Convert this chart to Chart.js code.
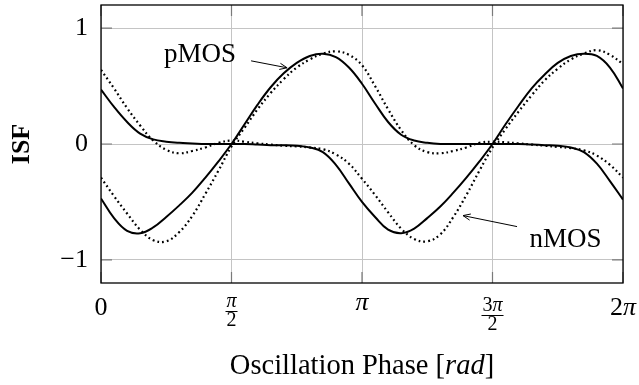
<!DOCTYPE html>
<html>
<head>
<meta charset="utf-8">
<script src="https://cdn.jsdelivr.net/npm/chart.js@4.4.1/dist/chart.umd.min.js"></script>
<style>
  html, body { margin: 0; padding: 0; background: #fff; }
</style>
</head>
<body>
<canvas id="isf" width="639" height="385"></canvas>
<script>
// Fase en múltiplos de pi
const phase = [0, 0.05, 0.1, 0.15, 0.2, 0.25, 0.3, 0.35, 0.4, 0.45, 0.5, 0.55, 0.6, 0.65, 0.7, 0.75, 0.8, 0.85, 0.9, 0.95,
  1, 1.05, 1.1, 1.15, 1.2, 1.25, 1.3, 1.35, 1.4, 1.45, 1.5, 1.55, 1.6, 1.65, 1.7, 1.75, 1.8, 1.85, 1.9, 1.95, 2];

// Curvas continuas
const pmosSolid = [-0.47, -0.64, -0.75, -0.77, -0.72, -0.63, -0.53, -0.42, -0.29, -0.15, 0.0, 0.17, 0.34, 0.49, 0.61, 0.70, 0.76, 0.78, 0.75, 0.66,
  0.52, 0.35, 0.19, 0.08, 0.03, 0.01, 0.0, 0.0, 0.0, 0.0, 0.0, 0.0, 0.0, -0.005, -0.01, -0.015, -0.03, -0.07, -0.17, -0.32, -0.48];
const nmosSolid = [0.47, 0.32, 0.19, 0.09, 0.04, 0.02, 0.01, 0.005, 0.0, 0.0, 0.0, 0.0, -0.005, -0.01, -0.01, -0.015, -0.03, -0.07, -0.18, -0.34,
  -0.50, -0.63, -0.74, -0.77, -0.73, -0.64, -0.54, -0.42, -0.29, -0.15, 0.0, 0.17, 0.33, 0.48, 0.60, 0.70, 0.76, 0.78, 0.76, 0.66, 0.48];

// Curvas punteadas
const pmosDotted = [-0.29, -0.45, -0.60, -0.74, -0.83, -0.84, -0.76, -0.62, -0.43, -0.23, -0.02, 0.14, 0.30, 0.44, 0.56, 0.66, 0.73, 0.78, 0.80, 0.77,
  0.68, 0.50, 0.30, 0.12, -0.01, -0.07, -0.08, -0.06, -0.03, 0.01, 0.02, 0.015, 0.005, -0.005, -0.015, -0.025, -0.035, -0.055, -0.10, -0.18, -0.29];
const nmosDotted = [0.64, 0.48, 0.31, 0.16, 0.03, -0.05, -0.08, -0.06, -0.03, 0.01, 0.03, 0.02, 0.005, -0.005, -0.015, -0.02, -0.03, -0.045, -0.09, -0.17,
  -0.30, -0.44, -0.59, -0.73, -0.82, -0.84, -0.78, -0.63, -0.44, -0.23, -0.03, 0.13, 0.28, 0.42, 0.55, 0.65, 0.73, 0.78, 0.81, 0.77, 0.69];

// Ejes
const xTicks = [0, 0.5, 1, 1.5, 2];
const xTickLabels = [['0'], ['π', '2'], ['π'], ['3π', '2'], ['2π']];
const yTicks = [-1, 0, 1];
const yTickLabels = ['−1', '0', '1'];

// Anotaciones (coordenadas de datos)
const noteText = ['pMOS', 'nMOS'];
const notePos = [[0.379, 0.71], [1.78, -0.885]];
const arrowFrom = [[0.575, 0.718], [1.594, -0.713]];
const arrowTo = [[0.713, 0.658], [1.387, -0.618]];

const serif = '"Liberation Serif", "Times New Roman", serif';

function toPoints(ys) {
  return phase.map((x, i) => ({ x, y: ys[i] }));
}

// π en cursiva, lo demás recto
function mathSegs(str) {
  return str.split(/(π)/).filter(Boolean).map(p => [p, p === 'π']);
}
function setFont(ctx, italic, size) {
  ctx.font = (italic ? 'italic ' : '') + size + 'px ' + serif;
}
function segsWidth(ctx, segs, size) {
  let w = 0;
  segs.forEach(s => { setFont(ctx, s[1], size); w += ctx.measureText(s[0]).width; });
  return w;
}
function segsAscent(ctx, segs, size) {
  let a = 0;
  segs.forEach(s => { setFont(ctx, s[1], size); a = Math.max(a, ctx.measureText(s[0]).actualBoundingBoxAscent); });
  return a;
}
function drawSegs(ctx, segs, cx, base, size) {
  let x = cx - segsWidth(ctx, segs, size) / 2;
  ctx.textAlign = 'left';
  ctx.textBaseline = 'alphabetic';
  segs.forEach(s => {
    setFont(ctx, s[1], size);
    ctx.fillText(s[0], x, base);
    x += ctx.measureText(s[0]).width;
  });
}

const decor = {
  id: 'decor',
  afterDatasetsDraw(chart) {
    const { ctx, chartArea: a, scales: { x, y } } = chart;
    ctx.save();

    // marcas de los ejes
    ctx.strokeStyle = '#7a7a7a';
    ctx.lineWidth = 1.2;
    ctx.beginPath();
    xTicks.forEach(v => {
      const px = x.getPixelForValue(v);
      ctx.moveTo(px, a.bottom); ctx.lineTo(px, a.bottom - 11);
      ctx.moveTo(px, a.top); ctx.lineTo(px, a.top + 11);
    });
    yTicks.forEach(v => {
      const py = y.getPixelForValue(v);
      ctx.moveTo(a.left, py); ctx.lineTo(a.left + 11, py);
      ctx.moveTo(a.right, py); ctx.lineTo(a.right - 11, py);
    });
    ctx.stroke();

    // marco
    ctx.strokeStyle = '#000';
    ctx.lineWidth = 1.3;
    ctx.strokeRect(a.left, a.top, a.right - a.left, a.bottom - a.top);

    // etiquetas del eje x (fracciones)
    ctx.fillStyle = '#000';
    const top = a.bottom + 14;
    xTicks.forEach((v, i) => {
      const px = x.getPixelForValue(v);
      const lab = xTickLabels[i];
      if (lab.length === 1) {
        const segs = mathSegs(lab[0]);
        drawSegs(ctx, segs, px, top + 1 + segsAscent(ctx, segs, 26), 26);
      } else {
        const num = mathSegs(lab[0]), den = mathSegs(lab[1]);
        const nb = top + segsAscent(ctx, num, 20);
        const w = Math.max(segsWidth(ctx, num, 20), segsWidth(ctx, den, 20)) + 2;
        drawSegs(ctx, num, px, nb, 20);
        ctx.fillRect(px - w / 2, nb + 4, w, 1);
        drawSegs(ctx, den, px, nb + 19, 20);
      }
    });

    // título del eje x
    drawSegs(ctx, [['Oscillation Phase ', false], ['[', false], ['rad', true], [']', false]],
      (a.left + a.right) / 2, 374, 28.5);

    // anotaciones con flecha
    noteText.forEach((t, i) => {
      drawSegs(ctx, [[t, false]], x.getPixelForValue(notePos[i][0]), y.getPixelForValue(notePos[i][1]), 27);
      const x0 = x.getPixelForValue(arrowFrom[i][0]), y0 = y.getPixelForValue(arrowFrom[i][1]);
      const x1 = x.getPixelForValue(arrowTo[i][0]), y1 = y.getPixelForValue(arrowTo[i][1]);
      const ang = Math.atan2(y1 - y0, x1 - x0);
      ctx.strokeStyle = '#000';
      ctx.lineWidth = 1;
      ctx.beginPath();
      ctx.moveTo(x0, y0); ctx.lineTo(x1, y1);
      ctx.moveTo(x1 - 8 * Math.cos(ang - 0.4), y1 - 8 * Math.sin(ang - 0.4));
      ctx.lineTo(x1, y1);
      ctx.lineTo(x1 - 8 * Math.cos(ang + 0.4), y1 - 8 * Math.sin(ang + 0.4));
      ctx.stroke();
    });

    ctx.restore();
  }
};

const solid = { borderColor: '#000', borderWidth: 2, pointRadius: 0, tension: 0.4, fill: false };
const dotted = { borderColor: '#000', borderWidth: 2.2, borderDash: [1.8, 3.0], pointRadius: 0, tension: 0.4, fill: false };

new Chart(document.getElementById('isf'), {
  type: 'line',
  data: {
    datasets: [
      { label: 'pMOS', data: toPoints(pmosSolid), ...solid },
      { label: 'nMOS', data: toPoints(nmosSolid), ...solid },
      { label: 'pMOS sim', data: toPoints(pmosDotted), ...dotted },
      { label: 'nMOS sim', data: toPoints(nmosDotted), ...dotted }
    ]
  },
  options: {
    responsive: false,
    devicePixelRatio: 1,
    animation: false,
    layout: { padding: { top: 5, right: 16, left: 0, bottom: 0 } },
    plugins: { legend: { display: false }, tooltip: { enabled: false } },
    scales: {
      x: {
        type: 'linear', min: 0, max: 2,
        afterBuildTicks: s => { s.ticks = xTicks.map(v => ({ value: v })); },
        afterFit: s => { s.height = 102; s.paddingLeft = 0; s.paddingRight = 0; },
        ticks: { display: false },
        grid: { color: '#c4c4c4', lineWidth: 1, drawTicks: false },
        border: { display: false }
      },
      y: {
        min: -1.2, max: 1.2,
        afterBuildTicks: s => { s.ticks = yTicks.map(v => ({ value: v })); },
        afterFit: s => { s.width = 101; s.paddingTop = 0; s.paddingBottom = 0; },
        ticks: {
          color: '#000', padding: 13,
          font: { family: serif, size: 26 },
          callback: v => yTickLabels[yTicks.indexOf(v)]
        },
        grid: { color: '#c4c4c4', lineWidth: 1, drawTicks: false },
        border: { display: false },
        title: { display: true, text: 'ISF', color: '#000', font: { family: serif, size: 26, weight: 'bold' }, padding: { top: 7, bottom: 0 } }
      }
    }
  },
  plugins: [decor]
});
</script>
</body>
</html>
